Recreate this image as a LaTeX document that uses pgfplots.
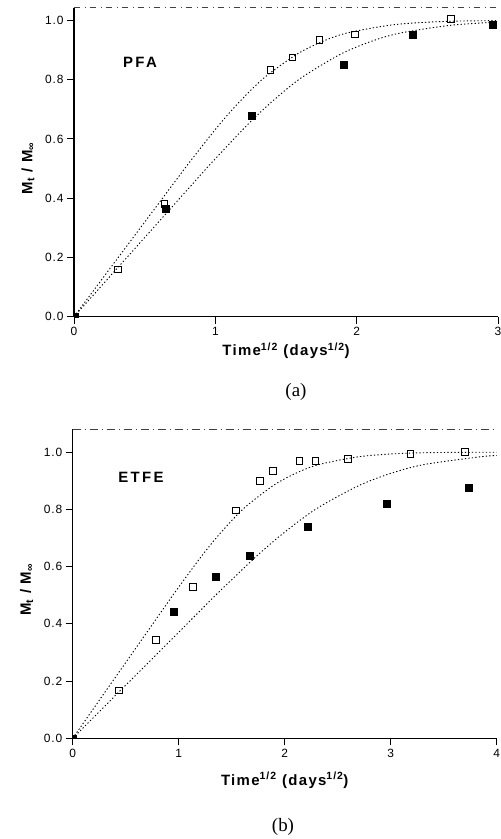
\documentclass[border=0pt]{standalone}
\usepackage{pgfplots}
\pgfplotsset{compat=1.18}
\usepackage{fontspec}
\setmainfont{Liberation Sans}
\newfontfamily\serif{Liberation Serif}
\newfontfamily\lsb[LetterSpace=9]{Liberation Sans}
\newfontfamily\lsbb[LetterSpace=16]{Liberation Sans}
\newfontfamily\lst[LetterSpace=7]{Liberation Sans}
\begin{document}
\begin{tikzpicture}[x=1bp,y=1bp]
\useasboundingbox (0,0) rectangle (501,839);
\pgfplotsset{
  myax/.style={
    scale only axis, width=424bp, height=309bp,
    axis x line*=bottom, axis y line*=left,
    axis line style={line width=1.1pt},
    tick align=outside, major tick length=7bp,
    tick style={line width=0.9pt, black},
    xtick pos=bottom, ytick pos=left,
    ymin=0, ytick={0,0.2,0.4,0.6,0.8,1.0},
    yticklabel style={font=\lst\fontsize{12}{14}\selectfont, /pgf/number format/.cd, fixed, fixed zerofill, precision=1, assume math mode=true},
    xticklabel style={font=\lst\fontsize{12}{14}\selectfont, /pgf/number format/assume math mode=true},
    xlabel={Time\textsuperscript{1/2} (days\textsuperscript{1/2})},
    ylabel={M\textsubscript{t} / M\textsubscript{∞}},
    every axis y label/.style={at={(rel axis cs:0,0.5)}, xshift=-46bp, yshift=-6bp, rotate=90, anchor=center, font=\lsb\bfseries\fontsize{15}{17}\selectfont},
    fitline/.style={black, line width=0.9bp, dash pattern=on 1.3bp off 2.2bp, smooth, no marks},
    openpt/.style={only marks, mark=square, mark size=3.3bp, mark options={line width=0.9bp, black, fill=white}},
    fillpt/.style={only marks, mark=square*, mark size=3.5bp, mark options={black}},
  }
}
% ---------- panel (a) ----------
\begin{axis}[myax, at={(74bp,522.3bp)}, anchor=south west,
  xmin=0, xmax=3, ymax=1.043, xtick={0,1,2,3},
  every axis x label/.style={at={(rel axis cs:0.5,0)}, yshift=-34bp, anchor=center, font=\lsb\bfseries\fontsize{15}{17}\selectfont}]
\draw[black!75, line width=0.8pt, dash pattern=on 6bp off 5bp on 1bp off 4bp] (rel axis cs:0,1) -- (rel axis cs:1,1);
\addplot[fitline] coordinates {
(0,0) (0.1768,0.1128) (0.25,0.160) (0.3536,0.2257) (0.5,0.3192) (0.6124,0.3909)
(0.7071,0.4514) (0.7906,0.5046) (0.866,0.551) (1.0,0.632) (1.118,0.698)
(1.25,0.764) (1.369,0.8155) (1.581,0.887) (1.768,0.931) (1.936,0.958)
(2.236,0.984) (2.5,0.994) (2.739,0.998) (3.0,0.9993)};
\addplot[fitline] coordinates {
(0,0) (0.2113,0.1128) (0.2988,0.160) (0.4226,0.2257) (0.5976,0.3192) (0.7319,0.3909)
(0.8452,0.4514) (0.9449,0.5046) (1.0351,0.551) (1.1952,0.632) (1.3363,0.698)
(1.494,0.764) (1.6366,0.8155) (1.8898,0.887) (2.1129,0.931) (2.3146,0.958)
(2.6726,0.984) (3.0,0.9944)};
\addplot[openpt] coordinates {
(0.311,0.160) (0.639,0.380) (1.390,0.833) (1.546,0.875) (1.737,0.935) (1.989,0.952) (2.668,1.005)};
\addplot[fillpt] coordinates {
(0.648,0.363) (1.256,0.678) (1.907,0.849) (2.399,0.952) (2.965,0.986)};
\addplot[fillpt, mark size=1.8bp] coordinates {(0.015,0.006)};
\node[font=\lsbb\bfseries\fontsize{15}{17}\selectfont] at (axis cs:0.467,0.86) {PFA};
\end{axis}
\node[font=\serif\fontsize{19}{22}\selectfont] at (296,447) {(a)};
% ---------- panel (b) ----------
\begin{axis}[myax, at={(72.7bp,100.7bp)}, anchor=south west,
  xmin=0, xmax=4, ymax=1.08, xtick={0,1,2,3,4},
  every axis x label/.style={at={(rel axis cs:0.5,0)}, yshift=-42bp, anchor=center, font=\lsb\bfseries\fontsize{15}{17}\selectfont}]
\draw[black!75, line width=0.8pt, dash pattern=on 8bp off 4bp on 1bp off 4bp] (rel axis cs:0,1) -- (rel axis cs:1,1);
\addplot[fitline] coordinates {
(0,0) (0.2132,0.1128) (0.3015,0.160) (0.4264,0.2257) (0.603,0.3192) (0.7386,0.3909)
(0.8528,0.4514) (0.9535,0.5046) (1.0445,0.551) (1.206,0.632) (1.3484,0.698)
(1.5076,0.764) (1.6514,0.8155) (1.9069,0.887) (2.132,0.931) (2.3355,0.958)
(2.6968,0.984) (3.0151,0.994) (3.3029,0.998) (3.618,0.9993) (4.0,0.9999)};
\addplot[fitline] coordinates {
(0,0) (0.3043,0.1128) (0.4303,0.160) (0.6086,0.2257) (0.8607,0.3192) (1.0541,0.3909)
(1.2172,0.4514) (1.3608,0.5046) (1.4907,0.551) (1.7213,0.632) (1.9245,0.698)
(2.1517,0.764) (2.357,0.8155) (2.7217,0.887) (3.0429,0.931) (3.3333,0.958)
(3.849,0.984) (4.0,0.9886)};
\addplot[openpt] coordinates {
(0.437,0.167) (0.783,0.344) (1.132,0.530) (1.538,0.796) (1.764,0.900) (1.887,0.934)
(2.138,0.969) (2.289,0.970) (2.597,0.977) (3.186,0.994) (3.698,1.000)};
\addplot[fillpt] coordinates {
(0.953,0.442) (1.349,0.566) (1.667,0.638) (2.217,0.738) (2.959,0.821) (3.733,0.875)};
\addplot[fillpt, mark size=1.8bp] coordinates {(0.02,0.006)};
\node[font=\lsbb\bfseries\fontsize{15}{17}\selectfont] at (axis cs:0.644,0.913) {ETFE};
\end{axis}
\node[font=\serif\fontsize{19}{22}\selectfont] at (283,12.5) {(b)};
\end{tikzpicture}
\end{document}
